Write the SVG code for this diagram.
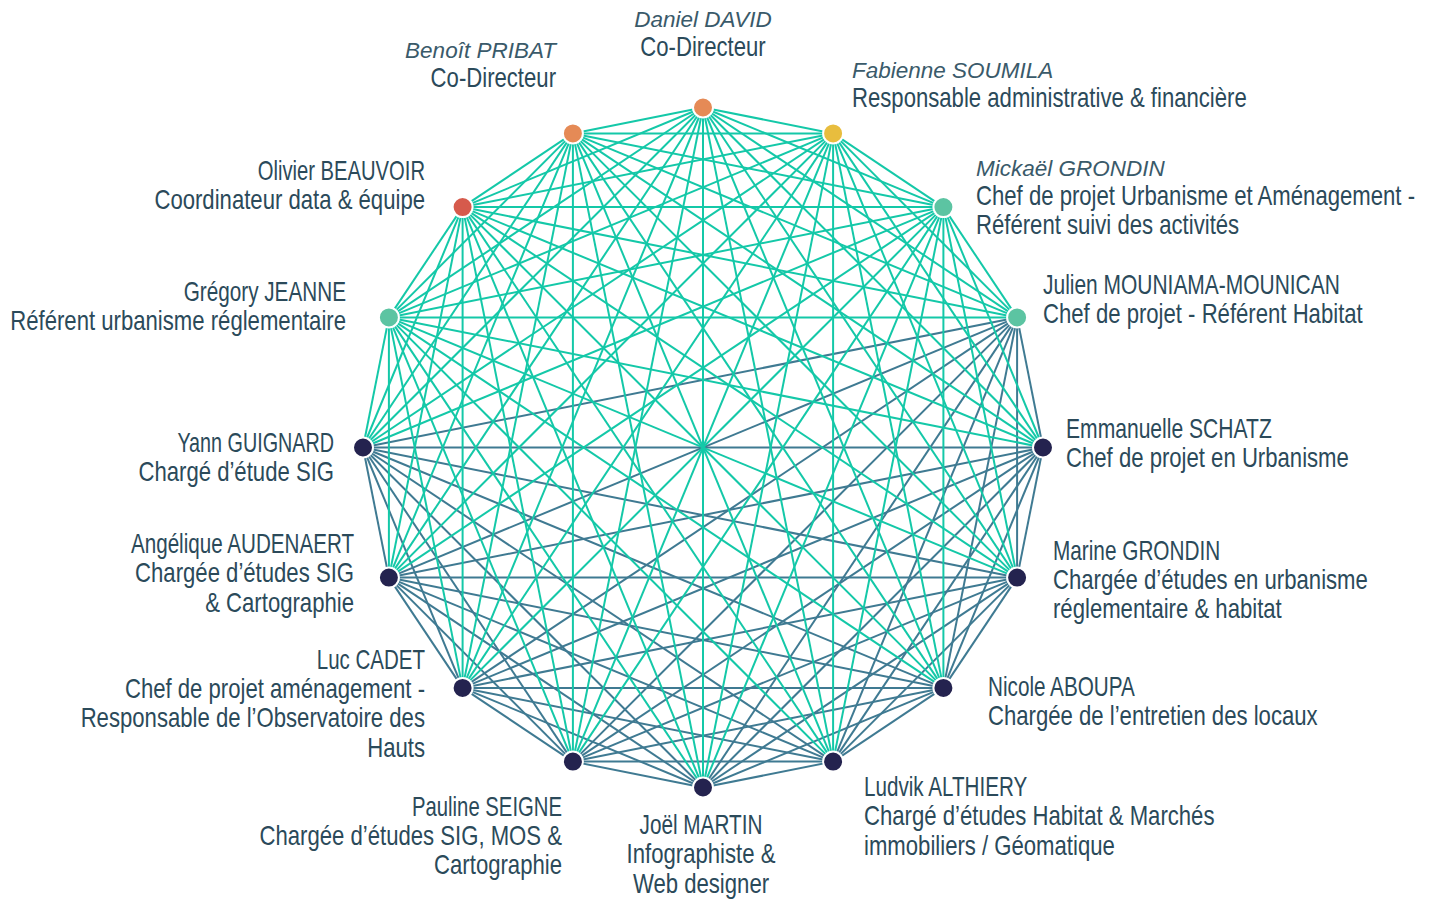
<svg xmlns="http://www.w3.org/2000/svg" width="1432" height="899" viewBox="0 0 1432 899">
<style>
.bg{fill:#ffffff}
.t{stroke:#14c8a8;stroke-width:2;fill:none}
.s{stroke:#3f7a92;stroke-width:2;fill:none}
.n{stroke:#ffffff;stroke-width:2}
.navy{fill:#24234f}
.org{fill:#e58a56}
.yel{fill:#e8bd3e}
.red{fill:#d65a4c}
.grn{fill:#5cc4a2}
text{font-family:"Liberation Sans",Arial,sans-serif;font-size:27px;fill:#2b4a5a}
text.i{font-style:italic;font-size:22.5px;fill:#3a5a6a}
.e{text-anchor:end}.m{text-anchor:middle}
</style>
<rect class="bg" x="0" y="0" width="1432" height="899"/>
<g id="connectors">
<g id="slate-links">
<line class="s" x1="1017.1" y1="317.4" x2="1043" y2="447.5"/>
<line class="s" x1="1017.1" y1="317.4" x2="1017.1" y2="577.6"/>
<line class="s" x1="1017.1" y1="317.4" x2="943.4" y2="687.9"/>
<line class="s" x1="1017.1" y1="317.4" x2="833.1" y2="761.6"/>
<line class="s" x1="1017.1" y1="317.4" x2="703" y2="787.5"/>
<line class="s" x1="1017.1" y1="317.4" x2="572.9" y2="761.6"/>
<line class="s" x1="1017.1" y1="317.4" x2="462.6" y2="687.9"/>
<line class="s" x1="1017.1" y1="317.4" x2="388.9" y2="577.6"/>
<line class="s" x1="1017.1" y1="317.4" x2="363" y2="447.5"/>
<line class="s" x1="1043" y1="447.5" x2="1017.1" y2="577.6"/>
<line class="s" x1="1043" y1="447.5" x2="943.4" y2="687.9"/>
<line class="s" x1="1043" y1="447.5" x2="833.1" y2="761.6"/>
<line class="s" x1="1043" y1="447.5" x2="703" y2="787.5"/>
<line class="s" x1="1043" y1="447.5" x2="572.9" y2="761.6"/>
<line class="s" x1="1043" y1="447.5" x2="462.6" y2="687.9"/>
<line class="s" x1="1043" y1="447.5" x2="388.9" y2="577.6"/>
<line class="s" x1="1043" y1="447.5" x2="363" y2="447.5"/>
<line class="s" x1="1017.1" y1="577.6" x2="943.4" y2="687.9"/>
<line class="s" x1="1017.1" y1="577.6" x2="833.1" y2="761.6"/>
<line class="s" x1="1017.1" y1="577.6" x2="703" y2="787.5"/>
<line class="s" x1="1017.1" y1="577.6" x2="572.9" y2="761.6"/>
<line class="s" x1="1017.1" y1="577.6" x2="462.6" y2="687.9"/>
<line class="s" x1="1017.1" y1="577.6" x2="388.9" y2="577.6"/>
<line class="s" x1="1017.1" y1="577.6" x2="363" y2="447.5"/>
<line class="s" x1="943.4" y1="687.9" x2="833.1" y2="761.6"/>
<line class="s" x1="943.4" y1="687.9" x2="703" y2="787.5"/>
<line class="s" x1="943.4" y1="687.9" x2="572.9" y2="761.6"/>
<line class="s" x1="943.4" y1="687.9" x2="462.6" y2="687.9"/>
<line class="s" x1="943.4" y1="687.9" x2="388.9" y2="577.6"/>
<line class="s" x1="943.4" y1="687.9" x2="363" y2="447.5"/>
<line class="s" x1="833.1" y1="761.6" x2="703" y2="787.5"/>
<line class="s" x1="833.1" y1="761.6" x2="572.9" y2="761.6"/>
<line class="s" x1="833.1" y1="761.6" x2="462.6" y2="687.9"/>
<line class="s" x1="833.1" y1="761.6" x2="388.9" y2="577.6"/>
<line class="s" x1="833.1" y1="761.6" x2="363" y2="447.5"/>
<line class="s" x1="703" y1="787.5" x2="572.9" y2="761.6"/>
<line class="s" x1="703" y1="787.5" x2="462.6" y2="687.9"/>
<line class="s" x1="703" y1="787.5" x2="388.9" y2="577.6"/>
<line class="s" x1="703" y1="787.5" x2="363" y2="447.5"/>
<line class="s" x1="572.9" y1="761.6" x2="462.6" y2="687.9"/>
<line class="s" x1="572.9" y1="761.6" x2="388.9" y2="577.6"/>
<line class="s" x1="572.9" y1="761.6" x2="363" y2="447.5"/>
<line class="s" x1="462.6" y1="687.9" x2="388.9" y2="577.6"/>
<line class="s" x1="462.6" y1="687.9" x2="363" y2="447.5"/>
<line class="s" x1="388.9" y1="577.6" x2="363" y2="447.5"/>
</g>
<g id="teal-links">
<line class="t" x1="703" y1="107.5" x2="833.1" y2="133.4"/>
<line class="t" x1="703" y1="107.5" x2="943.4" y2="207.1"/>
<line class="t" x1="703" y1="107.5" x2="1017.1" y2="317.4"/>
<line class="t" x1="703" y1="107.5" x2="1043" y2="447.5"/>
<line class="t" x1="703" y1="107.5" x2="1017.1" y2="577.6"/>
<line class="t" x1="703" y1="107.5" x2="943.4" y2="687.9"/>
<line class="t" x1="703" y1="107.5" x2="833.1" y2="761.6"/>
<line class="t" x1="703" y1="107.5" x2="703" y2="787.5"/>
<line class="t" x1="703" y1="107.5" x2="572.9" y2="761.6"/>
<line class="t" x1="703" y1="107.5" x2="462.6" y2="687.9"/>
<line class="t" x1="703" y1="107.5" x2="388.9" y2="577.6"/>
<line class="t" x1="703" y1="107.5" x2="363" y2="447.5"/>
<line class="t" x1="703" y1="107.5" x2="388.9" y2="317.4"/>
<line class="t" x1="703" y1="107.5" x2="462.6" y2="207.1"/>
<line class="t" x1="703" y1="107.5" x2="572.9" y2="133.4"/>
<line class="t" x1="833.1" y1="133.4" x2="943.4" y2="207.1"/>
<line class="t" x1="833.1" y1="133.4" x2="1017.1" y2="317.4"/>
<line class="t" x1="833.1" y1="133.4" x2="1043" y2="447.5"/>
<line class="t" x1="833.1" y1="133.4" x2="1017.1" y2="577.6"/>
<line class="t" x1="833.1" y1="133.4" x2="943.4" y2="687.9"/>
<line class="t" x1="833.1" y1="133.4" x2="833.1" y2="761.6"/>
<line class="t" x1="833.1" y1="133.4" x2="703" y2="787.5"/>
<line class="t" x1="833.1" y1="133.4" x2="572.9" y2="761.6"/>
<line class="t" x1="833.1" y1="133.4" x2="462.6" y2="687.9"/>
<line class="t" x1="833.1" y1="133.4" x2="388.9" y2="577.6"/>
<line class="t" x1="833.1" y1="133.4" x2="363" y2="447.5"/>
<line class="t" x1="833.1" y1="133.4" x2="388.9" y2="317.4"/>
<line class="t" x1="833.1" y1="133.4" x2="462.6" y2="207.1"/>
<line class="t" x1="833.1" y1="133.4" x2="572.9" y2="133.4"/>
<line class="t" x1="943.4" y1="207.1" x2="1017.1" y2="317.4"/>
<line class="t" x1="943.4" y1="207.1" x2="1043" y2="447.5"/>
<line class="t" x1="943.4" y1="207.1" x2="1017.1" y2="577.6"/>
<line class="t" x1="943.4" y1="207.1" x2="943.4" y2="687.9"/>
<line class="t" x1="943.4" y1="207.1" x2="833.1" y2="761.6"/>
<line class="t" x1="943.4" y1="207.1" x2="703" y2="787.5"/>
<line class="t" x1="943.4" y1="207.1" x2="572.9" y2="761.6"/>
<line class="t" x1="943.4" y1="207.1" x2="462.6" y2="687.9"/>
<line class="t" x1="943.4" y1="207.1" x2="388.9" y2="577.6"/>
<line class="t" x1="943.4" y1="207.1" x2="363" y2="447.5"/>
<line class="t" x1="943.4" y1="207.1" x2="388.9" y2="317.4"/>
<line class="t" x1="943.4" y1="207.1" x2="462.6" y2="207.1"/>
<line class="t" x1="943.4" y1="207.1" x2="572.9" y2="133.4"/>
<line class="t" x1="388.9" y1="317.4" x2="1017.1" y2="317.4"/>
<line class="t" x1="388.9" y1="317.4" x2="1043" y2="447.5"/>
<line class="t" x1="388.9" y1="317.4" x2="1017.1" y2="577.6"/>
<line class="t" x1="388.9" y1="317.4" x2="943.4" y2="687.9"/>
<line class="t" x1="388.9" y1="317.4" x2="833.1" y2="761.6"/>
<line class="t" x1="388.9" y1="317.4" x2="703" y2="787.5"/>
<line class="t" x1="388.9" y1="317.4" x2="572.9" y2="761.6"/>
<line class="t" x1="388.9" y1="317.4" x2="462.6" y2="687.9"/>
<line class="t" x1="388.9" y1="317.4" x2="388.9" y2="577.6"/>
<line class="t" x1="388.9" y1="317.4" x2="363" y2="447.5"/>
<line class="t" x1="388.9" y1="317.4" x2="462.6" y2="207.1"/>
<line class="t" x1="388.9" y1="317.4" x2="572.9" y2="133.4"/>
<line class="t" x1="462.6" y1="207.1" x2="1017.1" y2="317.4"/>
<line class="t" x1="462.6" y1="207.1" x2="1043" y2="447.5"/>
<line class="t" x1="462.6" y1="207.1" x2="1017.1" y2="577.6"/>
<line class="t" x1="462.6" y1="207.1" x2="943.4" y2="687.9"/>
<line class="t" x1="462.6" y1="207.1" x2="833.1" y2="761.6"/>
<line class="t" x1="462.6" y1="207.1" x2="703" y2="787.5"/>
<line class="t" x1="462.6" y1="207.1" x2="572.9" y2="761.6"/>
<line class="t" x1="462.6" y1="207.1" x2="462.6" y2="687.9"/>
<line class="t" x1="462.6" y1="207.1" x2="388.9" y2="577.6"/>
<line class="t" x1="462.6" y1="207.1" x2="363" y2="447.5"/>
<line class="t" x1="462.6" y1="207.1" x2="572.9" y2="133.4"/>
<line class="t" x1="572.9" y1="133.4" x2="1017.1" y2="317.4"/>
<line class="t" x1="572.9" y1="133.4" x2="1043" y2="447.5"/>
<line class="t" x1="572.9" y1="133.4" x2="1017.1" y2="577.6"/>
<line class="t" x1="572.9" y1="133.4" x2="943.4" y2="687.9"/>
<line class="t" x1="572.9" y1="133.4" x2="833.1" y2="761.6"/>
<line class="t" x1="572.9" y1="133.4" x2="703" y2="787.5"/>
<line class="t" x1="572.9" y1="133.4" x2="572.9" y2="761.6"/>
<line class="t" x1="572.9" y1="133.4" x2="462.6" y2="687.9"/>
<line class="t" x1="572.9" y1="133.4" x2="388.9" y2="577.6"/>
<line class="t" x1="572.9" y1="133.4" x2="363" y2="447.5"/>
</g>
</g>
<g id="node-daniel"><circle class="n org" cx="703" cy="107.5" r="10"/><text class="i m" x="703" y="27">Daniel DAVID</text><g transform="translate(703,0) scale(0.82,1)"><text class="m" x="0" y="56">Co-Directeur</text></g></g>
<g id="node-fabienne"><circle class="n yel" cx="833.1" cy="133.4" r="10"/><text class="i" x="852" y="78">Fabienne SOUMILA</text><g transform="translate(852,0) scale(0.82,1)"><text x="0" y="107">Responsable administrative &amp; financière</text></g></g>
<g id="node-mickael"><circle class="n grn" cx="943.4" cy="207.1" r="10"/><text class="i" x="976" y="176">Mickaël GRONDIN</text><g transform="translate(976,0) scale(0.82,1)"><text x="0" y="205">Chef de projet Urbanisme et Aménagement -</text><text x="0" y="234">Référent suivi des activités</text></g></g>
<g id="node-julien"><circle class="n grn" cx="1017.1" cy="317.4" r="10"/><g transform="translate(1043,0) scale(0.82,1)"><text x="0" y="294" textLength="362" lengthAdjust="spacingAndGlyphs">Julien MOUNIAMA-MOUNICAN</text><text x="0" y="323">Chef de projet - Référent Habitat</text></g></g>
<g id="node-emmanuelle"><circle class="n navy" cx="1043" cy="447.5" r="10"/><g transform="translate(1066,0) scale(0.82,1)"><text x="0" y="438" textLength="251" lengthAdjust="spacingAndGlyphs">Emmanuelle SCHATZ</text><text x="0" y="467">Chef de projet en Urbanisme</text></g></g>
<g id="node-marine"><circle class="n navy" cx="1017.1" cy="577.6" r="10"/><g transform="translate(1053,0) scale(0.82,1)"><text x="0" y="560" textLength="204" lengthAdjust="spacingAndGlyphs">Marine GRONDIN</text><text x="0" y="589">Chargée d’études en urbanisme</text><text x="0" y="618">réglementaire &amp; habitat</text></g></g>
<g id="node-nicole"><circle class="n navy" cx="943.4" cy="687.9" r="10"/><g transform="translate(988,0) scale(0.82,1)"><text x="0" y="696" textLength="179" lengthAdjust="spacingAndGlyphs">Nicole ABOUPA</text><text x="0" y="725">Chargée de l’entretien des locaux</text></g></g>
<g id="node-ludvik"><circle class="n navy" cx="833.1" cy="761.6" r="10"/><g transform="translate(864,0) scale(0.82,1)"><text x="0" y="796" textLength="199" lengthAdjust="spacingAndGlyphs">Ludvik ALTHIERY</text><text x="0" y="825">Chargé d’études Habitat &amp; Marchés</text><text x="0" y="855">immobiliers / Géomatique</text></g></g>
<g id="node-joel"><circle class="n navy" cx="703" cy="787.5" r="10"/><g transform="translate(701,0) scale(0.82,1)"><text class="m" x="0" y="834" textLength="150" lengthAdjust="spacingAndGlyphs">Joël MARTIN</text><text class="m" x="0" y="863">Infographiste &amp;</text><text class="m" x="0" y="893">Web designer</text></g></g>
<g id="node-pauline"><circle class="n navy" cx="572.9" cy="761.6" r="10"/><g transform="translate(562,0) scale(0.82,1)"><text class="e" x="0" y="816" textLength="183" lengthAdjust="spacingAndGlyphs">Pauline SEIGNE</text><text class="e" x="0" y="845">Chargée d’études SIG, MOS &amp;</text><text class="e" x="0" y="874">Cartographie</text></g></g>
<g id="node-luc"><circle class="n navy" cx="462.6" cy="687.9" r="10"/><g transform="translate(425,0) scale(0.82,1)"><text class="e" x="0" y="669" textLength="132" lengthAdjust="spacingAndGlyphs">Luc CADET</text><text class="e" x="0" y="698">Chef de projet aménagement -</text><text class="e" x="0" y="727">Responsable de l’Observatoire des</text><text class="e" x="0" y="757">Hauts</text></g></g>
<g id="node-angelique"><circle class="n navy" cx="388.9" cy="577.6" r="10"/><g transform="translate(354,0) scale(0.82,1)"><text class="e" x="0" y="553" textLength="272" lengthAdjust="spacingAndGlyphs">Angélique AUDENAERT</text><text class="e" x="0" y="582">Chargée d’études SIG</text><text class="e" x="0" y="612">&amp; Cartographie</text></g></g>
<g id="node-yann"><circle class="n navy" cx="363" cy="447.5" r="10"/><g transform="translate(334,0) scale(0.82,1)"><text class="e" x="0" y="452" textLength="191" lengthAdjust="spacingAndGlyphs">Yann GUIGNARD</text><text class="e" x="0" y="481">Chargé d’étude SIG</text></g></g>
<g id="node-gregory"><circle class="n grn" cx="388.9" cy="317.4" r="10"/><g transform="translate(346,0) scale(0.82,1)"><text class="e" x="0" y="301" textLength="198" lengthAdjust="spacingAndGlyphs">Grégory JEANNE</text><text class="e" x="0" y="330">Référent urbanisme réglementaire</text></g></g>
<g id="node-olivier"><circle class="n red" cx="462.6" cy="207.1" r="10"/><g transform="translate(425,0) scale(0.82,1)"><text class="e" x="0" y="180" textLength="204" lengthAdjust="spacingAndGlyphs">Olivier BEAUVOIR</text><text class="e" x="0" y="209">Coordinateur data &amp; équipe</text></g></g>
<g id="node-benoit"><circle class="n org" cx="572.9" cy="133.4" r="10"/><text class="i e" x="556" y="58">Benoît PRIBAT</text><g transform="translate(556,0) scale(0.82,1)"><text class="e" x="0" y="87">Co-Directeur</text></g></g>
</svg>
